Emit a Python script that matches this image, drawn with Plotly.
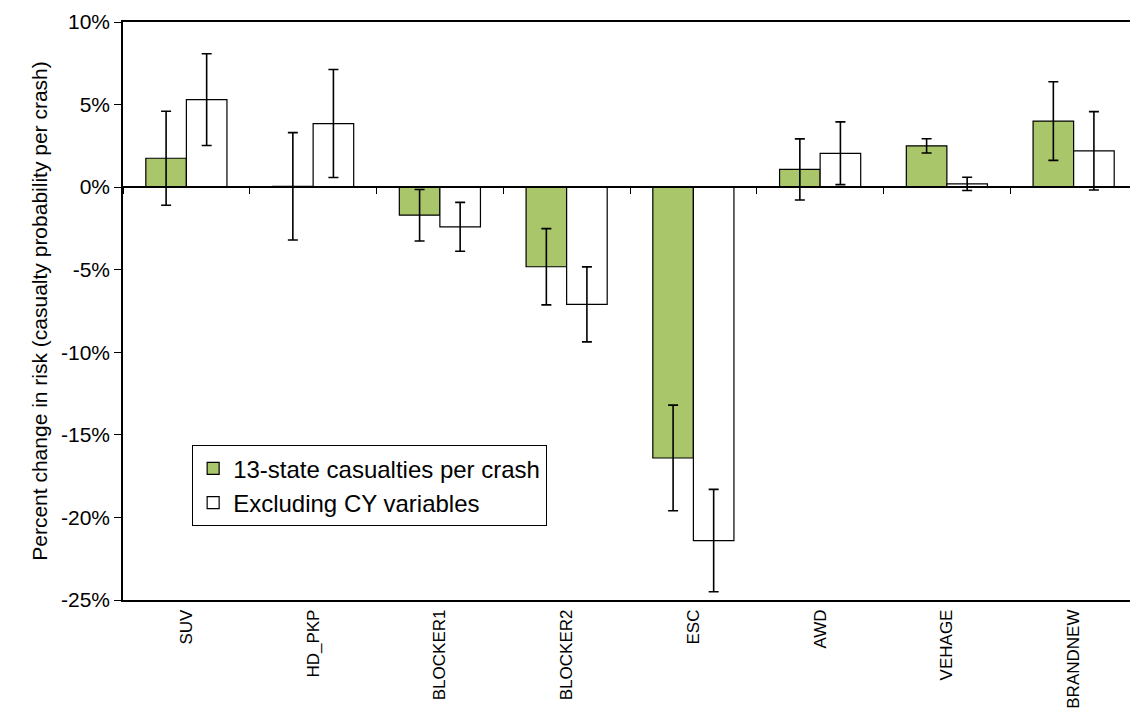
import plotly.graph_objects as go

categories = ["SUV", "HD_PKP", "BLOCKER1", "BLOCKER2", "ESC", "AWD", "VEHAGE", "BRANDNEW"]
series1_name = "13-state casualties per crash"
series1 = [1.75, 0.05, -1.7, -4.82, -16.4, 1.07, 2.5, 4.0]
series1_err = [2.85, 3.25, 1.56, 2.31, 3.2, 1.85, 0.43, 2.38]
series2_name = "Excluding CY variables"
series2 = [5.3, 3.85, -2.4, -7.1, -21.4, 2.05, 0.2, 2.2]
series2_err = [2.78, 3.27, 1.48, 2.27, 3.1, 1.9, 0.4, 2.37]
y_ticks = [10, 5, 0, -5, -10, -15, -20, -25]
y_ticklabels = ["10%", "5%", "0%", "-5%", "-10%", "-15%", "-20%", "-25%"]
y_title = "Percent change in risk (casualty probability per crash)"

FONT = "Liberation Sans, Arial, sans-serif"
err_style = dict(type="data", color="black", thickness=1.6, width=5)

fig = go.Figure()
fig.add_trace(go.Bar(
    x=categories, y=series1, name=series1_name,
    marker=dict(color="#AAC66B", line=dict(color="black", width=1.2)),
    error_y=dict(array=series1_err, **err_style),
))
fig.add_trace(go.Bar(
    x=categories, y=series2, name=series2_name,
    marker=dict(color="white", line=dict(color="black", width=1.2)),
    error_y=dict(array=series2_err, **err_style),
))
# invisible trace to carry the zero-crossing axis
fig.add_trace(go.Scatter(x=[0], y=[0], xaxis="x2", mode="markers",
                         marker=dict(opacity=0), showlegend=False, hoverinfo="skip"))

ymin, ymax = -25, 10
zero_pos = (0 - ymin) / (ymax - ymin)

fig.update_layout(
    width=1130, height=711,
    margin=dict(l=115, r=1, t=14, b=119, autoexpand=False),
    paper_bgcolor="white", plot_bgcolor="white",
    barmode="group", bargap=0.36, bargroupgap=0,
    font=dict(family=FONT, color="black"),
    showlegend=True,
    legend=dict(
        x=0.068, y=0.268, xanchor="left", yanchor="top",
        bgcolor="white", bordercolor="black", borderwidth=1.2,
        font=dict(size=24, family=FONT), itemwidth=30,
        tracegroupgap=6,
    ),
    xaxis=dict(
        type="category", range=[-0.5, 7.5], automargin=False,
        showline=True, linecolor="black", linewidth=1.5, mirror=True,
        ticks="outside", ticklen=1, tickcolor="rgba(0,0,0,0)",
        tickangle=-90, tickfont=dict(size=17, family=FONT),
        showgrid=False, zeroline=False,
    ),
    xaxis2=dict(
        overlaying="x", anchor="free", position=zero_pos, side="bottom",
        range=[-0.5, 7.5], showline=True, linecolor="black", linewidth=1.8,
        tickmode="array", tickvals=[i + 0.5 for i in range(-1, 8)],
        ticks="outside", ticklen=6, tickwidth=1.2, tickcolor="black",
        showticklabels=False, showgrid=False, zeroline=False, automargin=False,
    ),
    yaxis=dict(
        range=[ymin, ymax], tickmode="array", tickvals=y_ticks, ticktext=y_ticklabels,
        showline=True, linecolor="black", linewidth=1.5, mirror=True, automargin=False,
        ticks="outside", ticklen=7, tickwidth=1.2, tickcolor="black",
        tickfont=dict(size=21, family=FONT), showgrid=False, zeroline=False,
        title=dict(text=y_title, font=dict(size=21, family=FONT), standoff=8),
    ),
)

fig.write_html("out.html")
